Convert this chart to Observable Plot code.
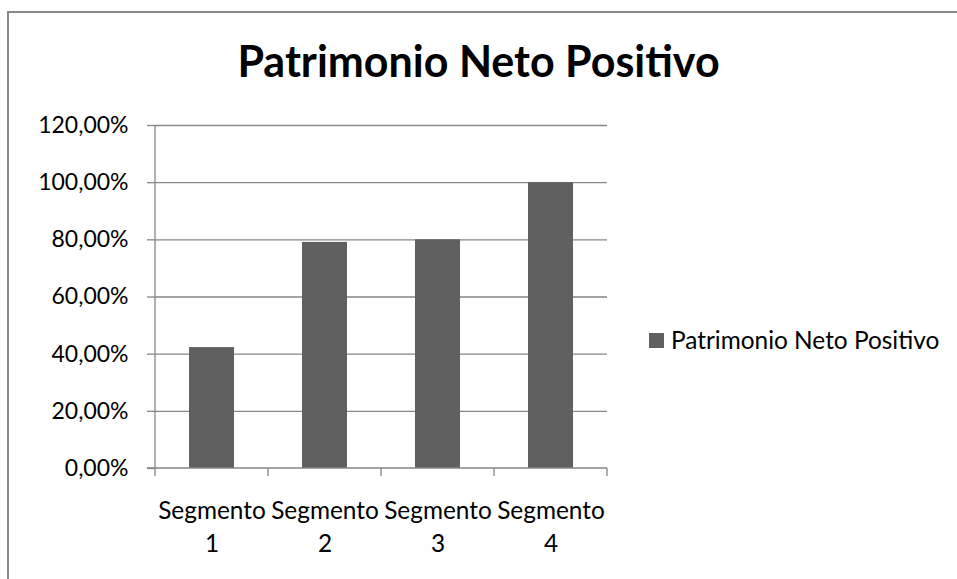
<!DOCTYPE html>
<html><head><meta charset="utf-8">
<script src="https://cdn.jsdelivr.net/npm/d3@7"></script>
<script src="https://cdn.jsdelivr.net/npm/@observablehq/plot@0.6"></script>
<style>
html,body{margin:0;padding:0;background:#fff;}
#wrap{position:relative;width:957px;height:579px;overflow:hidden;font-family:Lato,"Open Sans",sans-serif;color:#000;}
#frame{position:absolute;left:7px;top:11px;width:2000px;height:2000px;border-left:2px solid #8a8a8a;border-top:2px solid #8a8a8a;}
#chart{position:absolute;left:0;top:0;}
#title{position:absolute;left:0;top:35px;width:957px;text-align:center;font-weight:bold;font-size:43px;line-height:1.2;white-space:nowrap;}
#legend{position:absolute;left:649px;top:325px;font-size:24.4px;line-height:1.2;white-space:nowrap;}
#legend .sw{position:absolute;left:0;top:8px;width:15px;height:15px;background:#606060;}
#legend .lb{position:absolute;left:22px;top:0;}
</style></head>
<body>
<div id="wrap">
  <div id="frame"></div>
  <div id="chart"></div>
  <div id="title"></div>
  <div id="legend"><div class="sw"></div><div class="lb"></div></div>
</div>
<script>
const chartTitle = "Patrimonio Neto Positivo";
const seriesName = "Patrimonio Neto Positivo";
const categories = ["Segmento 1", "Segmento 2", "Segmento 3", "Segmento 4"];
const values = [42.3, 79.1, 80.0, 100.0];
const yTicks = [0, 20, 40, 60, 80, 100, 120];

const data = categories.map((c, i) => ({cat: c, v: values[i]}));
const fmtPct = d => d.toFixed(2).replace(".", ",") + "%";
const axisColor = "#868686";
const barColor = "#606060";

function axisLines(index, scales, vals, dims) {
  const x = scales.x, y = scales.y;
  const g = d3.create("svg:g").attr("stroke", axisColor).attr("stroke-width", 1.3);
  const step = x.step(), bw = x.bandwidth();
  const y0 = y(0);
  const left = x(categories[0]) + bw / 2 - step / 2;
  g.append("line").attr("x1", left).attr("x2", left).attr("y1", y(yTicks[yTicks.length - 1])).attr("y2", y0);
  g.append("line").attr("x1", left - 8).attr("x2", left + step * categories.length).attr("y1", y0).attr("y2", y0);
  const bounds = categories.map(c => x(c) + bw / 2 - step / 2);
  bounds.push(bounds[bounds.length - 1] + step);
  for (const b of bounds) {
    g.append("line").attr("x1", b).attr("x2", b).attr("y1", y0).attr("y2", y0 + 8);
  }
  return g.node();
}

const plot = Plot.plot({
  width: 957,
  height: 579,
  marginLeft: 155,
  marginRight: 350,
  marginTop: 125,
  marginBottom: 111,
  style: {fontFamily: "Lato, 'Open Sans', sans-serif", fontSize: "23px", color: "#000", background: "transparent", overflow: "visible"},
  x: {type: "band", domain: categories, paddingInner: 0.6, paddingOuter: 0.3, label: null},
  y: {domain: [0, 120], label: null},
  marks: [
    Plot.gridY(yTicks.slice(1), {stroke: axisColor, strokeOpacity: 1, strokeWidth: 1.3}),
    Plot.barY(data, {x: "cat", y: "v", fill: barColor}),
    Plot.axisY(yTicks, {tickSize: 8, tickPadding: 19, tickFormat: fmtPct, stroke: axisColor, strokeWidth: 1.3, fontSize: 23, fill: "#000", label: null}),
    Plot.axisX({tickSize: 0, tickPadding: 27, fontSize: 24.4, lineHeight: 1.35, fill: "#000", tickFormat: d => d.replace(" ", "\n"), label: null}),
    axisLines
  ]
});
document.getElementById("chart").appendChild(plot);
document.getElementById("title").textContent = chartTitle;
document.querySelector("#legend .lb").textContent = seriesName;
</script>
</body></html>
